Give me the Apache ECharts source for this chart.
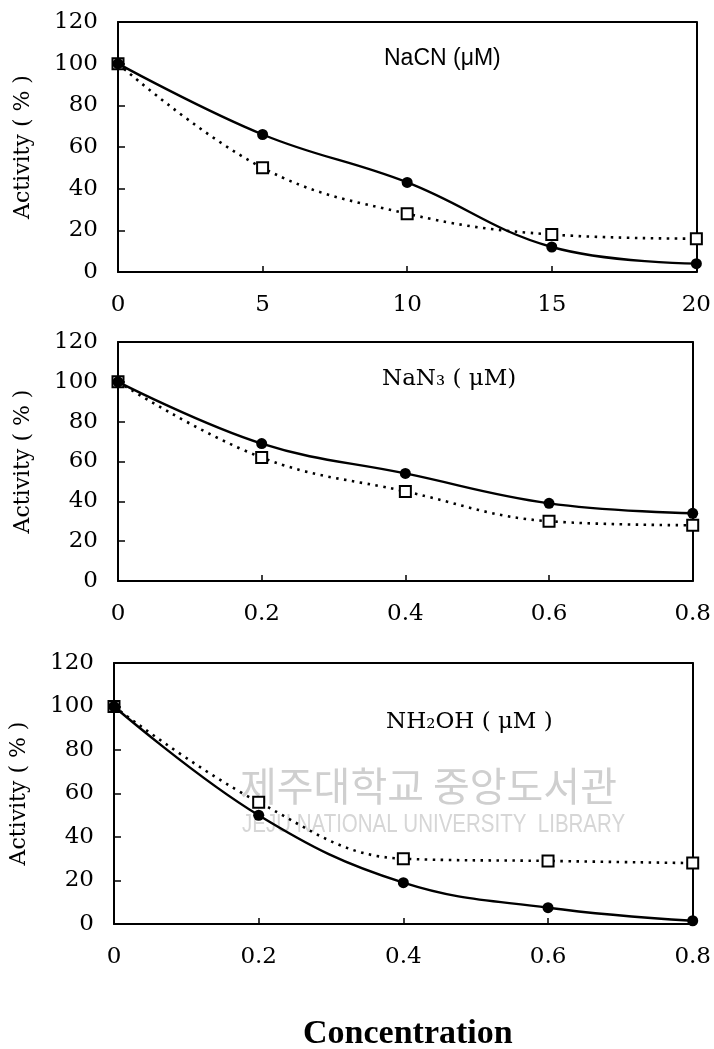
<!DOCTYPE html>
<html>
<head>
<meta charset="utf-8">
<script src="https://cdn.jsdelivr.net/npm/echarts@6/dist/echarts.min.js"></script>
<style>html,body{margin:0;padding:0;background:#fff}#c{width:714px;height:1049px}</style>
</head>
<body>
<div id="c"></div>
<script>
// ---- data ----
const yTicks = [0, 20, 40, 60, 80, 100, 120];
const nacnX = [0, 5, 10, 15, 20];
const nacnFilled = [100, 66, 43, 12, 4];
const nacnOpen = [100, 50, 28, 18, 16];
const nan3X = [0, 0.2, 0.4, 0.6, 0.8];
const nan3Filled = [100, 69, 54, 39, 34];
const nan3Open = [100, 62, 45, 30, 28];
const nh2ohX = [0, 0.2, 0.4, 0.6, 0.8];
const nh2ohFilled = [100, 50, 19, 7.5, 1.5];
const nh2ohOpen = [100, 56, 30, 29, 28];
const panelTitles = ['NaCN (\u03bcM)', 'NaN\u2083 ( \u03bcM)', 'NH\u2082OH ( \u03bcM )'];
const yName = 'Activity ( % )';
const xName = 'Concentration';

const panels = [
  {x: nacnX, f: nacnFilled, o: nacnOpen, grid: {left: 118, right: 16, top: 22, height: 250}},
  {x: nan3X, f: nan3Filled, o: nan3Open, grid: {left: 118, right: 20, top: 342, height: 239}},
  {x: nh2ohX, f: nh2ohFilled, o: nh2ohOpen, grid: {left: 114, right: 21, top: 663, height: 261}}
];
const tickFont = {fontFamily: 'DejaVu Serif', fontSize: 23, color: '#000'};
const frameLine = {show: true, onZero: false, lineStyle: {color: '#000', width: 2}};

const grids = [], xAxes = [], yAxes = [], series = [];
panels.forEach((p, i) => {
  grids.push(Object.assign({show: false}, p.grid));
  const xs = p.x;
  const xmin = xs[0], xmax = xs[xs.length - 1], xint = xs[1] - xs[0];
  const ymin = yTicks[0], ymax = yTicks[yTicks.length - 1], yint = yTicks[1] - yTicks[0];
  xAxes.push({
    type: 'value', gridIndex: i, min: xmin, max: xmax, interval: xint, position: 'bottom',
    axisLine: frameLine,
    axisTick: {show: true, inside: true, length: 6, lineStyle: {color: '#000', width: 1.5}},
    splitLine: {show: false},
    axisLabel: Object.assign({margin: 22, formatter: v => String(parseFloat(v.toFixed(2)))}, tickFont)
  });
  xAxes.push({
    type: 'value', gridIndex: i, min: xmin, max: xmax, interval: xint, position: 'top',
    axisLine: frameLine, axisTick: {show: false}, axisLabel: {show: false}, splitLine: {show: false}
  });
  yAxes.push({
    type: 'value', gridIndex: i, min: ymin, max: ymax, interval: yint, position: 'left',
    name: yName, nameLocation: 'middle', nameGap: 84, nameRotate: 90,
    nameTextStyle: {fontFamily: 'DejaVu Serif', fontSize: 22, color: '#000'},
    axisLine: frameLine,
    axisTick: {show: true, inside: true, length: 7, lineStyle: {color: '#000', width: 1.5}},
    splitLine: {show: false},
    axisLabel: Object.assign({margin: 20}, tickFont)
  });
  yAxes.push({
    type: 'value', gridIndex: i, min: ymin, max: ymax, interval: yint, position: 'right',
    axisLine: frameLine, axisTick: {show: false}, axisLabel: {show: false}, splitLine: {show: false}
  });
  series.push({
    type: 'line', xAxisIndex: 2 * i, yAxisIndex: 2 * i, smooth: 0.4, clip: false,
    data: xs.map((x, k) => [x, p.o[k]]),
    symbol: 'rect', symbolSize: 11,
    itemStyle: {color: '#fff', borderColor: '#000', borderWidth: 2},
    lineStyle: {color: '#000', width: 2.6, type: [2.5, 5.5]},
    z: 3
  });
  series.push({
    type: 'line', xAxisIndex: 2 * i, yAxisIndex: 2 * i, smooth: 0.4, clip: false,
    data: xs.map((x, k) => [x, p.f[k]]),
    symbol: 'circle', symbolSize: 11,
    itemStyle: {color: '#000', borderColor: '#000', borderWidth: 0},
    lineStyle: {color: '#000', width: 2.4},
    z: 4
  });
});

const chart = echarts.init(document.getElementById('c'), null, {renderer: 'canvas'});
chart.setOption({
  animation: false,
  backgroundColor: '#fff',
  grid: grids, xAxis: xAxes, yAxis: yAxes, series: series,
  graphic: [
    {type: 'text', left: 240, top: 766, z: 1, style: {text: '제주대학교 중앙도서관', font: '40px "Noto Sans CJK KR"', fill: '#cfcfcf'}},
    {type: 'text', left: 242, top: 813, z: 1, scaleX: 0.82, style: {text: 'JEJU NATIONAL UNIVERSITY  LIBRARY', font: '25px "Liberation Sans"', fill: '#d6d6d6'}},
    {type: 'text', left: 384, top: 47, z: 10, style: {text: panelTitles[0], font: '23px "Liberation Sans"', fill: '#000'}},
    {type: 'text', left: 382, top: 368, z: 10, style: {text: panelTitles[1], font: '23px "DejaVu Serif"', fill: '#000'}},
    {type: 'text', left: 386, top: 711, z: 10, style: {text: panelTitles[2], font: '23px "DejaVu Serif"', fill: '#000'}},
    {type: 'text', left: 303, top: 1017, z: 10, style: {text: xName, font: 'bold 34px "Liberation Serif"', fill: '#000'}}
  ]
});
</script>
</body>
</html>
